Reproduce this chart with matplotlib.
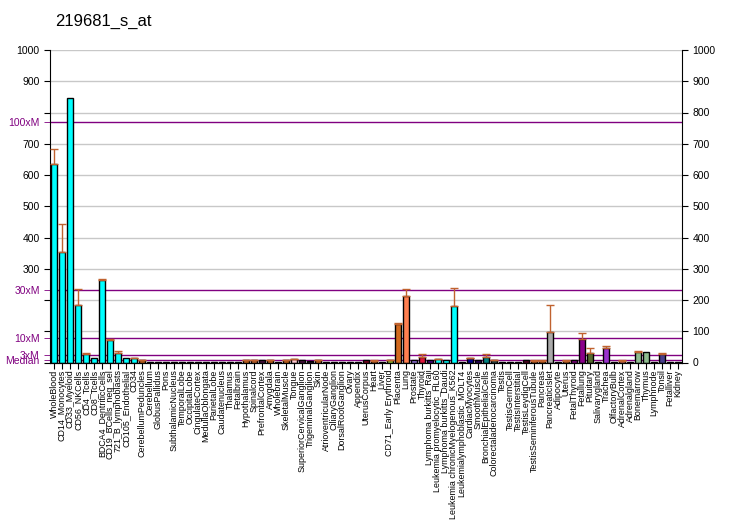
import matplotlib
matplotlib.use('Agg')
import matplotlib.pyplot as plt
import numpy as np

plt.rcParams['font.family'] = ['Liberation Sans', 'DejaVu Sans']

title = "219681_s_at"

categories = [
    "WholeBlood", "CD14_Monocytes", "CD33_Myeloid", "CD56_NKCells", "CD4_Tcells",
    "CD8_Tcells", "BDCA4_DentriticCells", "CD19_BCells_neg_sel", "721_B_lymphoblasts",
    "CD105_Endothelial", "CD34", "CerebellumPeduncles", "Cerebellum", "GlobusPallidus",
    "Pons", "SubthalamicNucleus", "TemporalLobe", "OccipitalLobe", "CingulateCortex",
    "MedullaOblongata", "ParietalLobe", "Caudatenucleus", "Thalamus", "Fetalbrain",
    "Hypothalamus", "Spinalcord", "PrefrontalCortex", "Amygdala", "Wholebrain",
    "SkeletalMuscle", "Tongue", "SuperiorCervicalGanglion", "TrigeminalGanglion", "Skin",
    "AtrioventricularNode", "CiliaryGanglion", "DorsalRootGanglion", "Ovary", "Appendix",
    "UterusCorpus", "Heart", "Liver", "CD71_Early Erythroid", "Placenta", "Lung",
    "Prostate", "Thyroid", "Lymphoma burkitts_Raji", "Leukemia promyelocytic_HL60",
    "Lymphoma burkitts_Daudi", "Leukemia chronicMyelogenous_K562",
    "Leukemialymphoblastic_MOLT4", "CardiacMyocytes", "SmoothMuscle",
    "BronchialEpithelialCells", "Colorectaladenocarcinoma", "Testis", "TestisGermCell",
    "TestisInterstitial", "TestisLeydigCell", "TestisSeminiferousTubule", "Pancreas",
    "PancreaticIslet", "Adipocyte", "Uterus", "FetalThyroid", "Fetallung", "Pituitary",
    "Salivarygland", "Trachea", "OlfactoryBulb", "AdrenalCortex", "Adrenalgland",
    "Bonemarrow", "Thymus", "Lymphnode", "Tonsil", "Fetalliver", "Kidney",
]

values = [
    636, 354, 847, 184, 28, 14, 265, 73, 30, 14, 13, 7,
    3, 3, 3, 3, 3, 3, 3, 3, 3, 3, 3, 3,
    7, 7, 7, 7, 3, 7, 10, 7, 6, 7, 3, 3, 3, 2, 3, 7, 6, 3, 7,
    123, 212, 7, 17, 7, 10, 7, 180, 3, 14, 7, 17, 7,
    3, 3, 3, 7, 5, 5, 99, 3, 5, 7, 74, 32, 3, 45, 3, 5, 3,
    35, 35, 2, 26, 2, 2,
]

# upper end of the error bar (0 = no error bar)
err_top = [
    684, 444, 0, 235, 29, 0, 267, 76, 37, 0, 16, 8,
    0, 0, 0, 0, 0, 0, 0, 0, 0, 0, 0, 0,
    8, 8, 0, 8, 0, 8, 11, 0, 0, 8, 0, 0, 0, 0, 0, 0, 8, 0, 9,
    126, 234, 0, 27, 0, 11, 0, 240, 0, 16, 0, 27, 9,
    0, 0, 0, 0, 7, 7, 183, 0, 7, 0, 93, 45, 0, 54, 0, 7, 0,
    36, 0, 0, 32, 0, 0,
]

colors = (
    ['#00FFFF'] * 11 + ['#D2691E'] + ['#1E6B1E'] * 12 +
    ['#D2691E', '#CD6A30', '#4B1040', '#D2691E', '#1E6B1E', '#D2691E', '#FFC8D0',
     '#4B1040', '#2A1030', '#D2691E', '#3A2040', '#1E6B1E', '#1E6B1E', '#2020C0',
     '#8A2BE2', '#800020', '#D2691E', '#B0A0A0', '#9ACD32',
     '#D2691E', '#FF7F50', '#9370DB', '#DC143C', '#4B0082', '#00FFFF', '#00FFFF',
     '#00FFFF', '#00FFFF', '#00008B', '#2A0060', '#008080', '#2F4F4F',
     '#D2691E', '#D2691E', '#D2691E', '#500020', '#D2691E', '#D2691E', '#A9A9A9',
     '#40E0D0', '#D2691E', '#800080', '#8B008B', '#556B2F', '#FF8C00', '#9932CC',
     '#8B0000', '#FA8072', '#FFB6C1', '#8FBC8F', '#8FBC8F', '#8FBC8F', '#483D8B',
     '#483D8B', '#483D8B']
)

xm_labels = ['Median', '3xM', '10xM', '30xM', '100xM']
xm_values = [7.7, 23.1, 77, 231, 770]

left_ticks = list(range(0, 1001, 100))
left_labels = ['' if t in (0, 100, 200, 800) else str(t) for t in left_ticks]
right_ticks = list(range(0, 1001, 100))

fig = plt.figure(figsize=(7.32, 5.30), dpi=100)
ax = fig.add_axes([50 / 732, 1 - 362.5 / 530, 632 / 732, 312.5 / 530])
n = len(categories)
x = np.arange(n)
ax.set_xlim(-0.5, n - 0.5)
ax.set_ylim(0, 1000)

for t in right_ticks[1:]:
    ax.axhline(t, color='#C8C8C8', lw=1, zorder=0)
for v in xm_values:
    ax.axhline(v, color='#800080', lw=1, zorder=1)

vals = np.array(values, dtype=float)
et = np.array(err_top, dtype=float)
ax.bar(x, vals, width=0.75, color=colors, edgecolor='black', linewidth=1, zorder=2)
mask = et > 0
ax.errorbar(x[mask], vals[mask], yerr=[np.zeros(mask.sum()), et[mask] - vals[mask]],
            fmt='none', ecolor='#C0622F', elinewidth=1, capsize=3, capthick=1, zorder=3)

ax.set_yticks(left_ticks)
ax.set_yticklabels(left_labels, fontsize=7.5)
ax.set_yticks(xm_values, minor=True)
ax.set_yticklabels(xm_labels, minor=True, fontsize=7.5)
ax.tick_params(axis='y', which='major', length=4, color='black')
ax.tick_params(axis='y', which='minor', length=4, color='#800080', labelcolor='#800080')

ax.set_xticks(x)
ax.set_xticklabels(categories, rotation=90, fontsize=6.4)
ax.tick_params(axis='x', length=4, pad=1)

ax.spines['top'].set_visible(False)
ax.spines['right'].set_visible(False)

ax2 = ax.twinx()
ax2.set_ylim(0, 1000)
ax2.set_yticks(right_ticks)
ax2.set_yticklabels([str(t) for t in right_ticks], fontsize=7.5)
ax2.tick_params(axis='y', length=4)
ax2.spines['top'].set_visible(False)
ax2.spines['left'].set_visible(False)

fig.text(55 / 732, 1 - 21 / 530, title, fontsize=12, va='center', ha='left')

fig.savefig('out.png', dpi=100)
